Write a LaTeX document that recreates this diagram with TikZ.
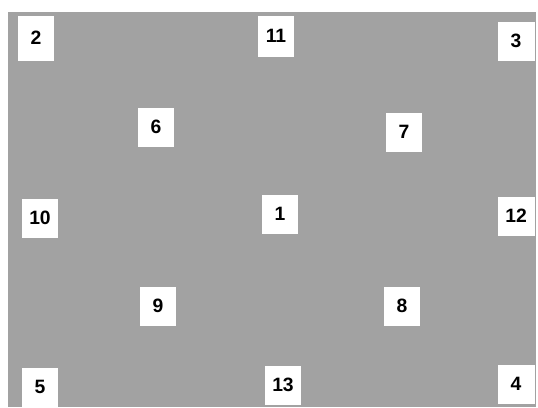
\documentclass[tikz,border=0pt]{standalone}
\usepackage{fontspec}
\setmainfont{Liberation Sans}
\usepackage{xcolor}
\usepackage{tikz}
\usetikzlibrary{positioning}
\definecolor{fieldgray}{RGB}{162,162,162}

\begin{document}
\begin{tikzpicture}[
    x=0.02cm, y=-0.02cm,
    field/.style={fill=fieldgray, draw=none},
    cell/.style={rectangle, fill=white, draw=none, inner sep=0pt, minimum width=0.74cm, minimum height=0.78cm, align=center, font=\fontsize{11}{13}\selectfont\bfseries}
]
    \useasboundingbox (0,0) rectangle (538,407);
    \fill[field] (8,12) rectangle (536,407);
    % corners and edge midpoints
    \node[cell, minimum height=0.9cm] (n2) at (36,38) {2};
    \node[cell, minimum height=0.82cm] (n11) at (276,36) {11};
    \node[cell] (n3) at (516,41) {3};
    \node[cell] (n10) at (40,218) {10};
    \node[cell] (n12) at (516,216) {12};
    \node[cell] (n5) at (40,387) {5};
    \node[cell] (n13) at (283,385) {13};
    \node[cell] (n4) at (516,384) {4};
    % inner ring
    \node[cell] (n6) at (156,127) {6};
    \node[cell] (n7) at (404,132) {7};
    \node[cell] (n9) at (158,306) {9};
    \node[cell] (n8) at (402,306) {8};
    % centre
    \node[cell] (n1) at (280,214) {1};
\end{tikzpicture}
\end{document}
